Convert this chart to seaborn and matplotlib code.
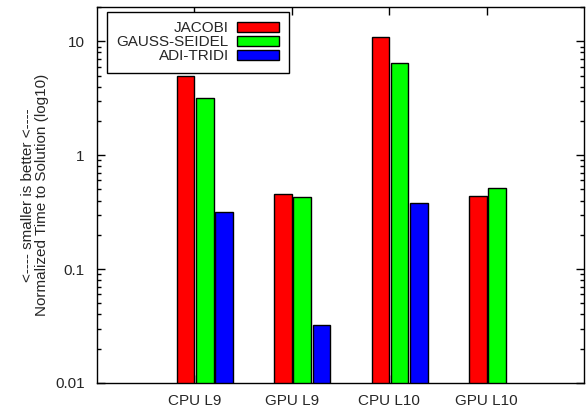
import numpy as np
import pandas as pd
import matplotlib
matplotlib.use("Agg")
import matplotlib.pyplot as plt
from matplotlib.ticker import LogLocator, FixedLocator, FixedFormatter, NullFormatter
import seaborn as sns

configs = ["CPU L9", "GPU L9", "CPU L10", "GPU L10"]
methods = ["JACOBI", "GAUSS-SEIDEL", "ADI-TRIDI"]
jacobi = [5.0, 0.46, 11.0, 0.44]
gauss_seidel = [3.2, 0.43, 6.4, 0.52]
adi_tridi = [0.32, 0.032, 0.38, np.nan]
colors = ["#ff0000", "#00ff00", "#0000ff"]
ytick_values = [0.01, 0.1, 1, 10]
ytick_labels = ["0.01", "0.1", "1", "10"]

rows = []
for method, vals in zip(methods, [jacobi, gauss_seidel, adi_tridi]):
    for cfg, v in zip(configs, vals):
        rows.append({"config": cfg, "method": method, "value": v})
df = pd.DataFrame(rows).dropna()

sns.set_style("ticks")
plt.rcParams["font.family"] = ["Liberation Sans", "DejaVu Sans"]
plt.rcParams["font.size"] = 11

fig = plt.figure(figsize=(5.87, 4.15), dpi=100)
ax = fig.add_axes([97 / 587, 1 - 383 / 415, (584 - 97) / 587, (383 - 7) / 415])
ax.set_yscale("log")

sns.barplot(data=df, x="config", y="value", hue="method", order=configs,
            hue_order=methods, palette=colors, width=0.594, gap=0.09,
            edgecolor="black", linewidth=1.0, saturation=1, ax=ax,
            errorbar=None)

ax.set_ylim(0.01, 20)
shift = 0.107
ax.set_xlim(-1 - shift, 4 - 1 - shift + 1)
ax.xaxis.set_major_locator(FixedLocator(np.arange(len(configs)) - shift))
ax.xaxis.set_major_formatter(FixedFormatter(configs))
ax.yaxis.set_major_locator(FixedLocator(ytick_values))
ax.yaxis.set_major_formatter(FixedFormatter(ytick_labels))
ax.yaxis.set_minor_locator(LogLocator(base=10, subs=np.arange(2, 10)))
ax.yaxis.set_minor_formatter(NullFormatter())

ax.tick_params(which="both", direction="in", top=True, right=True,
               color="black", labelsize=11)
ax.tick_params(axis="y", which="major", length=6, width=1, pad=9)
ax.tick_params(axis="y", which="minor", length=3, width=1)
ax.tick_params(axis="x", which="major", length=6, width=1, pad=8)
for s in ax.spines.values():
    s.set_visible(True)
    s.set_color("black")
    s.set_linewidth(1.0)

ax.set_xlabel("")
ax.set_ylabel("<---- smaller is better <----\nNormalized Time to Solution (log10)",
              fontsize=11, labelpad=4, linespacing=1.0)

handles, labels = ax.get_legend_handles_labels()
leg = ax.legend(handles, labels, loc="upper left",
                bbox_to_anchor=((107 - 97) / 487, (383 - 12) / 376),
                borderaxespad=0, markerfirst=False, fancybox=False,
                edgecolor="black", framealpha=1, handlelength=2.75,
                handleheight=0.55, handletextpad=0.55, labelspacing=0.0,
                borderpad=0.62, fontsize=11)
leg.get_frame().set_linewidth(1.0)

fig.savefig("out.png", dpi=100)
